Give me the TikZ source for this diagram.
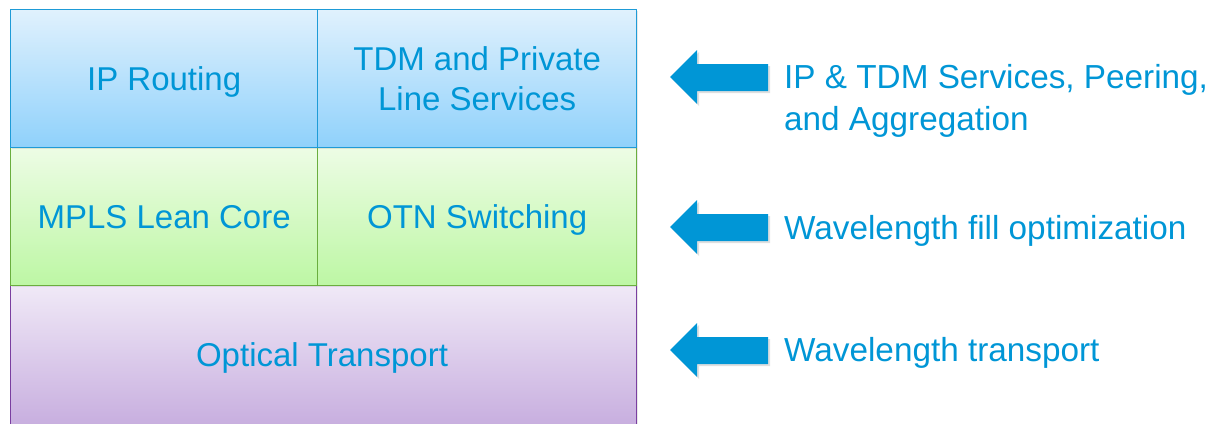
\documentclass[tikz,border=0pt]{standalone}
\usepackage{fontspec}
\setmainfont{Liberation Sans}
\usetikzlibrary{shadows}
\definecolor{txt}{HTML}{0096D6}
\definecolor{bluetop}{HTML}{E0F1FD}
\definecolor{bluebot}{HTML}{8FD1FB}
\definecolor{blueline}{HTML}{1E9BD7}
\definecolor{greentop}{HTML}{EDFCE5}
\definecolor{greenbot}{HTML}{BDF7A4}
\definecolor{greenline}{HTML}{6AAE3E}
\definecolor{purptop}{HTML}{F0E9F7}
\definecolor{purpbot}{HTML}{C6ACDE}
\definecolor{purpline}{HTML}{7A3FA0}
\tikzset{
  layer/.style={anchor=north west, inner sep=0pt, align=center, text=txt,
    font=\fontsize{33}{40}\selectfont,
    drop shadow={opacity=0.18, shadow xshift=1.5pt, shadow yshift=-1.5pt}},
  oneline/.style={text height=27pt, text depth=4pt},
  bluebox/.style={layer, draw=blueline, line width=1.3pt, top color=bluetop, bottom color=bluebot},
  greenbox/.style={layer, draw=greenline, line width=1.3pt, top color=greentop, bottom color=greenbot},
  purpbox/.style={layer, draw=purpline, line width=1.3pt, top color=purptop, bottom color=purpbot},
  larrow/.style={fill=txt, draw=none, drop shadow={opacity=0.25, shadow xshift=2pt, shadow yshift=-2pt}},
  label/.style={anchor=west, text=txt, align=left, inner sep=0pt, font=\fontsize{33.3}{42}\selectfont}
}
\newcommand{\leftarrowat}[2]{%
  \coordinate (#1) at (670,#2);
  \path[larrow] (#1) -- ++(27,-27) -- ++(0,14) -- ++(71,0) -- ++(0,27) -- ++(-71,0) -- ++(0,13) -- cycle;}
\begin{document}
\begin{tikzpicture}[x=1pt,y=-1pt]
\useasboundingbox (0,0) rectangle (1214,423);
\node[purpbox, minimum width=626pt, minimum height=145pt] (opt) at (10,285) {};
\node[text=txt, font=\fontsize{33}{40}\selectfont, oneline, inner sep=0pt] (optt) at (322,355) {Optical Transport};
\node[greenbox, oneline, minimum width=307pt, minimum height=138pt] (mpls) at (10,147) {MPLS Lean Core};
\node[greenbox, oneline, minimum width=319pt, minimum height=138pt] (otn) at (317,147) {OTN Switching};
\node[bluebox, oneline, minimum width=307pt, minimum height=138pt] (ip) at (10,9) {IP Routing};
\node[bluebox, minimum width=319pt, minimum height=138pt] (tdm) at (317,9) {TDM and Private\\Line Services};
\leftarrowat{a1}{77}
\leftarrowat{a2}{227}
\leftarrowat{a3}{350}
\node[label] (l1) at (784,101) {IP \& TDM Services, Peering,\\and Aggregation};
\node[label] (l2) at (784,231) {Wavelength fill optimization};
\node[label] (l3) at (784,353) {Wavelength transport};
\end{tikzpicture}
\end{document}
